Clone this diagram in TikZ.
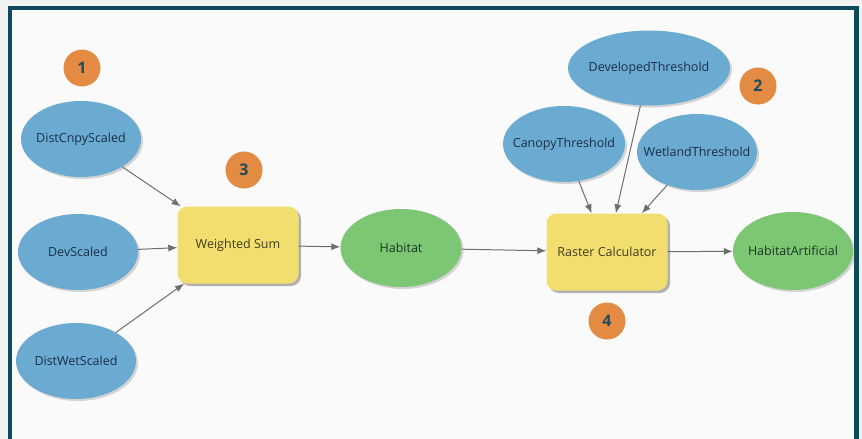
\documentclass[tikz,border=0pt]{standalone}
\usepackage{fontspec}
\setmainfont{Open Sans}
\usetikzlibrary{shapes.geometric,arrows.meta,shadows}

\definecolor{pagebg}{HTML}{F2F2F2}
\definecolor{canvasbg}{HTML}{FAFAFA}
\definecolor{frameteal}{HTML}{0E4A5C}
\definecolor{inputblue}{HTML}{6CABD1}
\definecolor{outputgreen}{HTML}{7CC674}
\definecolor{toolyellow}{HTML}{F2DE6F}
\definecolor{badgeorange}{HTML}{E38A43}
\definecolor{badgetext}{HTML}{1D4B5E}
\definecolor{bluetext}{HTML}{1A2E48}
\definecolor{greentext}{HTML}{1A3622}
\definecolor{yellowtext}{HTML}{403C1E}
\definecolor{linkgray}{HTML}{6E6E6E}

% zero-width label so that the shape keeps its own fixed size
\newcommand{\flatlabel}[1]{\makebox[0pt]{#1}}

\tikzset{
  labelfont/.style={font=\fontsize{12.5}{14}\selectfont},
  softshadow/.style={drop shadow={shadow xshift=2pt, shadow yshift=-2pt, opacity=0.25, fill=black!60}},
  inputvar/.style={ellipse, fill=inputblue, inner sep=0pt, minimum width=120pt, minimum height=76pt,
    text=bluetext, labelfont, softshadow},
  outputvar/.style={ellipse, fill=outputgreen, inner sep=0pt, minimum width=121pt, minimum height=78pt,
    text=greentext, labelfont, softshadow},
  toolbox/.style={rectangle, rounded corners=10pt, fill=toolyellow, inner sep=0pt, minimum width=121pt,
    minimum height=77pt, text=yellowtext, labelfont,
    drop shadow={shadow xshift=2.5pt, shadow yshift=-2.5pt, opacity=0.45, fill=black!65}},
  badge/.style={circle, fill=badgeorange, inner sep=0pt, minimum size=37pt,
    text=badgetext, font=\fontsize{16}{18}\selectfont\bfseries},
  link/.style={draw=linkgray, line width=1pt, -{Latex[length=9pt, width=7pt]}},
}

\begin{document}
\begin{tikzpicture}[x=1pt, y=-1pt]
  % page and canvas
  \fill[pagebg] (0,0) rectangle (862,439);
  \useasboundingbox (0,0) rectangle (862,439);
  \fill[canvasbg] (10,8) rectangle (856.5,439);
  \draw[frameteal, line width=4.5pt] (10,439) -- (10,8) -- (856.5,8) -- (856.5,439);

  % input variables
  \node[inputvar] (dcs) at (81,139) {\flatlabel{DistCnpyScaled}};
  \node[inputvar] (dev) at (78,252) {\flatlabel{DevScaled}};
  \node[inputvar] (dws) at (76,361) {\flatlabel{DistWetScaled}};
  \node[inputvar, minimum width=162pt, minimum height=75pt] (dth) at (649,68) {\flatlabel{DevelopedThreshold}};
  \node[inputvar, minimum width=122pt] (cth) at (564,144) {\flatlabel{CanopyThreshold}};
  \node[inputvar] (wth) at (697,152) {\flatlabel{WetlandThreshold}};

  % tools
  \node[toolbox] (ws) at (238,245) {Weighted Sum};
  \node[toolbox] (rc) at (607,252) {Raster Calculator};

  % outputs
  \node[outputvar] (hab) at (401,248) {\flatlabel{Habitat}};
  \node[outputvar, minimum width=120pt] (ha) at (793,251) {\flatlabel{HabitatArtificial}};

  % numbered badges
  \node[badge] (b1) at (82,68) {1};
  \node[badge] (b2) at (758,86) {2};
  \node[badge] (b3) at (244,170) {3};
  \node[badge] (b4) at (607,321) {4};

  % connectors
  \draw[link] (dcs) -- (ws);
  \draw[link] (dev) -- (ws);
  \draw[link] (dws) -- (ws);
  \draw[link] (ws) -- (hab);
  \draw[link] (hab) -- (rc);
  \draw[link] (rc) -- (ha);
  \draw[link] (cth) -- (rc);
  \draw[link] (dth) -- (rc);
  \draw[link] (wth) -- (rc);
\end{tikzpicture}
\end{document}
